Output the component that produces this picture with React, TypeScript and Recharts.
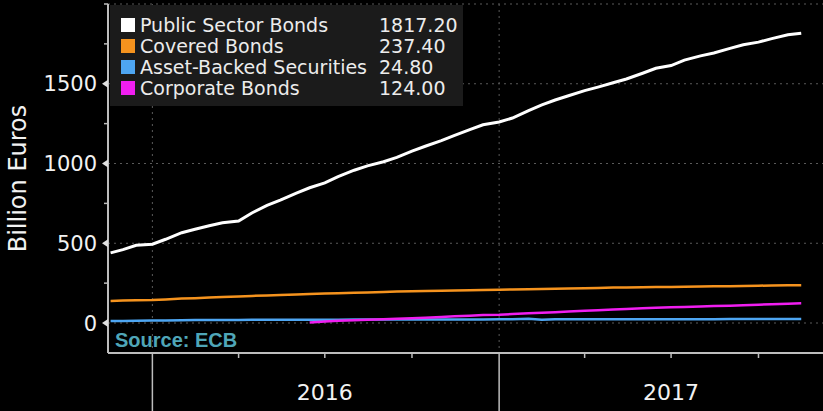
import React from "react";
import { LineChart, Line, XAxis, YAxis, CartesianGrid } from "recharts";

// semi-monthly observation dates
const dates = [
  "2015-11-18", "2015-12-01", "2015-12-15",
  "2016-01-01", "2016-01-15", "2016-02-01", "2016-02-15", "2016-03-01", "2016-03-15",
  "2016-04-01", "2016-04-15", "2016-05-01", "2016-05-15", "2016-06-01", "2016-06-15",
  "2016-07-01", "2016-07-15", "2016-08-01", "2016-08-15", "2016-09-01", "2016-09-15",
  "2016-10-01", "2016-10-15", "2016-11-01", "2016-11-15", "2016-12-01", "2016-12-15",
  "2017-01-01", "2017-01-15", "2017-02-01", "2017-02-15", "2017-03-01", "2017-03-15",
  "2017-04-01", "2017-04-15", "2017-05-01", "2017-05-15", "2017-06-01", "2017-06-15",
  "2017-07-01", "2017-07-15", "2017-08-01", "2017-08-15", "2017-09-01", "2017-09-15",
  "2017-10-01", "2017-10-15", "2017-11-01", "2017-11-15",
];

const publicSector = [
  440, 460, 487,
  494, 525, 566, 588, 610, 628,
  640, 690, 737, 770, 815, 848,
  878, 918, 958, 985, 1011, 1038,
  1078, 1108, 1143, 1176, 1213, 1243,
  1260, 1285, 1332, 1367, 1398, 1425,
  1457, 1479, 1506, 1530, 1566, 1597,
  1614, 1648, 1675, 1693, 1722, 1744,
  1761, 1783, 1807, 1817.2,
];

const covered = [
  138, 141, 143,
  144, 148, 153, 156, 160, 163,
  166, 170, 173, 176, 179, 182,
  185, 187, 189, 191, 194, 197,
  199, 201, 203, 204, 206, 207,
  208, 210, 212, 213, 215, 217,
  218, 220, 222, 223, 224, 225,
  226, 228, 229, 230, 231, 232,
  234, 235, 236, 237.4,
];

const assetBacked = [
  12, 13, 14,
  15, 16, 18, 18.5, 19, 19.5,
  19.5, 20, 20, 20.5, 20.5, 21,
  21, 21, 21.5, 21.5, 22, 22,
  22, 22, 22.5, 22.5, 22.5, 22.5,
  23, 23, 26, 21, 23, 23.5,
  23.5, 24, 24, 24, 24, 24,
  24.2, 24.2, 24.3, 24.3, 24.5, 24.5,
  24.6, 24.7, 24.8, 24.8,
];

const corporate = [
  null, null, null,
  null, null, null, null, null, null,
  null, null, null, null, null, 3,
  10, 14, 18, 20, 23, 26,
  30, 33, 38, 42, 46, 50,
  52, 56, 61, 64, 68, 72,
  77, 80, 84, 88, 92, 95,
  99, 101, 104, 106, 109, 112,
  115, 118, 121, 124,
];

const seriesNames = ["Public Sector Bonds", "Covered Bonds", "Asset-Backed Securities", "Corporate Bonds"];
const seriesKeys = ["pub", "cov", "abs", "corp"];
const seriesColors = ["#ffffff", "#f5931e", "#4ea6f2", "#f01ef0"];

const yTicks = [0, 250, 500, 750, 1000, 1250, 1500, 1750, 2000];
const yLabelled = [0, 500, 1000, 1500];
const gridValues = [0, 500, 1000, 1500, 2000];

const quarterDates = [
  "2016-01-01", "2016-04-01", "2016-07-01", "2016-10-01",
  "2017-01-01", "2017-04-01", "2017-07-01", "2017-10-01",
];
const yearDates = ["2016-01-01", "2017-01-01"];
const yearLabelDates = ["2016-07-01", "2017-07-01"];
const yearLabels = ["2016", "2017"];

const toYear = (s: string) => {
  const [y, m, d] = s.split("-").map(Number);
  const start = Date.UTC(y, 0, 1);
  const end = Date.UTC(y + 1, 0, 1);
  return y + (Date.UTC(y, m - 1, d) - start) / (end - start);
};

const data = dates.map((d, i) => ({
  t: toYear(d),
  pub: publicSector[i],
  cov: covered[i],
  abs: assetBacked[i],
  corp: corporate[i],
}));

const seriesValues = [publicSector, covered, assetBacked, corporate];

const xTicks = quarterDates.map(toYear);
const yearStarts = yearDates.map(toYear);
const labelTicks = yearLabelDates.map(toYear);

const FONT = "'DejaVu Sans', sans-serif";
const AXIS = "#bdbdbd";

const YTick = (props: any) => {
  const { x, y, payload } = props;
  const v = payload.value;
  const major = yLabelled.includes(v);
  return (
    <g>
      {major ? (
        <path d={`M${x - 6},${y} L${x},${y - 4} L${x},${y + 4} Z`} fill="#e0e0e0" />
      ) : (
        <line x1={x - 4} x2={x} y1={y} y2={y} stroke={AXIS} strokeWidth={1.5} />
      )}
      {major && (
        <text x={x - 11} y={y} dy="0.36em" textAnchor="end" fill="#f2f2f2" fontSize={21} fontFamily={FONT}>
          {v}
        </text>
      )}
    </g>
  );
};

const XTick = (props: any) => {
  const { x, y, payload } = props;
  const v = payload.value;
  const isYear = yearStarts.some((s) => Math.abs(s - v) < 1e-6);
  const li = labelTicks.findIndex((s) => Math.abs(s - v) < 1e-6);
  return (
    <g>
      <line x1={x} x2={x} y1={y} y2={isYear ? 411 : y + 5} stroke={AXIS} strokeWidth={1.5} />
      {li >= 0 && (
        <text x={x} y={y + 39} dy="0.36em" textAnchor="middle" fill="#f2f2f2" fontSize={22} fontFamily={FONT}>
          {yearLabels[li]}
        </text>
      )}
    </g>
  );
};

const YLabel = (props: any) => {
  const { viewBox } = props;
  const cy = viewBox.y + viewBox.height / 2;
  return (
    <text
      x={18}
      y={cy}
      transform={`rotate(-90, 18, ${cy})`}
      textAnchor="middle"
      dominantBaseline="central"
      fill="#f2f2f2"
      fontSize={24}
      fontFamily={FONT}
    >
      Billion Euros
    </text>
  );
};

export default function App() {
  return (
    <div style={{ position: "absolute", left: 0, top: 0, width: 823, height: 411, background: "#000" }}>
      <LineChart width={823} height={411} data={data} margin={{ top: 4, right: 0, bottom: 0, left: 0 }}>
        <CartesianGrid
          stroke="#5a5a5a"
          strokeDasharray="2 4"
          horizontalValues={gridValues}
          verticalValues={yearStarts}
        />
        <XAxis
          dataKey="t"
          type="number"
          domain={[2015.872, 2017.934]}
          ticks={xTicks}
          interval={0}
          height={58}
          tickSize={0}
          tickMargin={0}
          tickLine={false}
          axisLine={{ stroke: AXIS, strokeWidth: 2 }}
          tick={<XTick />}
          allowDataOverflow
        />
        <YAxis
          type="number"
          domain={[-188, 2000]}
          ticks={yTicks}
          interval={0}
          width={108}
          tickSize={0}
          tickMargin={0}
          tickLine={false}
          axisLine={{ stroke: AXIS, strokeWidth: 2 }}
          tick={<YTick />}
          label={<YLabel />}
          allowDataOverflow
        />
        <Line dataKey="cov" stroke={seriesColors[1]} strokeWidth={2.5} dot={false} isAnimationActive={false} />
        <Line dataKey="abs" stroke={seriesColors[2]} strokeWidth={2.5} dot={false} isAnimationActive={false} />
        <Line dataKey="corp" stroke={seriesColors[3]} strokeWidth={2.5} dot={false} isAnimationActive={false} />
        <Line dataKey="pub" stroke={seriesColors[0]} strokeWidth={3} dot={false} isAnimationActive={false} />
      </LineChart>

      <div
        style={{
          position: "absolute",
          left: 110,
          top: 5,
          width: 353,
          height: 101,
          background: "#1b1b1b",
          fontFamily: FONT,
          fontSize: 19,
          color: "#ececec",
          boxSizing: "border-box",
          paddingTop: 10,
        }}
      >
        {seriesNames.map((name, i) => (
          <div key={seriesKeys[i]} style={{ position: "relative", height: 21, lineHeight: "21px" }}>
            <span
              style={{
                position: "absolute",
                left: 11,
                top: 3,
                width: 14,
                height: 14,
                background: seriesColors[i],
              }}
            />
            <span style={{ position: "absolute", left: 30, top: 0, whiteSpace: "nowrap" }}>{name}</span>
            <span style={{ position: "absolute", left: 269, top: 0 }}>
              {(seriesValues[i][seriesValues[i].length - 1] as number).toFixed(2)}
            </span>
          </div>
        ))}
      </div>

      <div
        style={{
          position: "absolute",
          left: 115,
          top: 328,
          fontFamily: "'Liberation Sans', Arial, sans-serif",
          fontWeight: "bold",
          fontSize: 20,
          color: "#4fa6b8",
          lineHeight: "24px",
        }}
      >
        Source: ECB
      </div>
    </div>
  );
}
